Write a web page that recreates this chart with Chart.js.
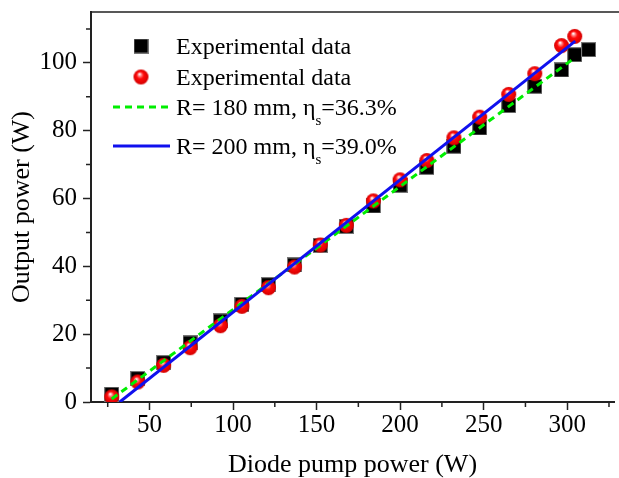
<!DOCTYPE html>
<html>
<head>
<meta charset="utf-8">
<script src="https://cdn.jsdelivr.net/npm/chart.js@4.4.1/dist/chart.umd.min.js"></script>
<style>
  html, body { margin: 0; padding: 0; background: #fff; overflow: hidden; }
  #wrap { width: 619px; height: 478px; position: relative; }
</style>
</head>
<body>
<div id="wrap"><canvas id="chart"></canvas></div>
<script>
// black squares
const pumpSquare = [27.4, 43, 58.5, 74.3, 92.5, 105.3, 121.2, 136.8, 152.2, 167.8, 184, 200, 216, 232.2, 247.6, 265, 280.6, 296.6, 304.5, 312.8];
const outSquare = [2.3, 6.9, 11.6, 17.4, 23.9, 28.8, 34.6, 40.4, 46.2, 51.8, 57.8, 63.9, 69.2, 75.4, 80.8, 87.4, 93.1, 97.9, 102.4, 103.9];
// red spheres
const pumpRound = [27.4, 43, 58.5, 74.3, 92.5, 105.3, 121.2, 136.8, 152.2, 167.8, 184, 200, 216, 232.2, 247.6, 265, 280.6, 296.6, 304.5];
const outRound = [1.5, 5.9, 10.8, 16.0, 22.5, 28.2, 33.7, 39.8, 46.3, 52.1, 59.3, 65.5, 71.2, 77.9, 84.0, 90.7, 96.8, 105.1, 107.8];
// linear fits (end points)
const fit180X = [27.4, 304.5];
const fit180Y = [0.9, 101.5];
const fit200X = [32.2, 304.8];
const fit200Y = [0, 106.4];

const xTicks = [50, 100, 150, 200, 250, 300];
const xMinor = [25, 75, 125, 175, 225, 275, 325];
const yTicks = [0, 20, 40, 60, 80, 100];
const yMinor = [10, 30, 50, 70, 90, 110];

const legendRows = [
    { kind: 'square', text: 'Experimental data' },
    { kind: 'sphere', text: 'Experimental data' },
    { kind: 'dash', text: 'R= 180 mm, \u03b7', sub: 's', tail: '=36.3%' },
    { kind: 'solid', text: 'R= 200 mm, \u03b7', sub: 's', tail: '=39.0%' },
];

const FONT = '"Liberation Serif", "Times New Roman", serif';
const axisColor = '#222';
const green = '#00ee00';
const blue = '#1010ee';

function pairs(xs, ys) {
    return xs.map((x, i) => ({ x: x, y: ys[i] }));
}

function makeSphere(r) {
    const c = document.createElement('canvas');
    const s = Math.ceil(r * 2 + 2);
    c.width = s;
    c.height = s;
    const g = c.getContext('2d');
    const cx = s / 2, cy = s / 2;
    const grad = g.createRadialGradient(cx - r * 0.2, cy - r * 0.4, r * 0.05, cx, cy, r);
    grad.addColorStop(0, '#ffffff');
    grad.addColorStop(0.2, '#ff8080');
    grad.addColorStop(0.45, '#ff0a0a');
    grad.addColorStop(1, '#d40000');
    g.fillStyle = grad;
    g.beginPath();
    g.arc(cx, cy, r, 0, Math.PI * 2);
    g.fill();
    return c;
}

function makeSquare(side) {
    const c = document.createElement('canvas');
    c.width = side + 2;
    c.height = side + 2;
    const g = c.getContext('2d');
    g.fillStyle = '#777';
    g.fillRect(0, 0, side + 2, side + 2);
    g.fillStyle = '#000';
    g.fillRect(1, 1, side, side);
    return c;
}

const sphereImg = makeSphere(7.5);
const squareImg = makeSquare(13);

const framePlugin = {
    id: 'frame',
    afterDraw(chart) {
        const { ctx, chartArea, scales } = chart;
        ctx.save();
        ctx.strokeStyle = axisColor;
        ctx.lineWidth = 1.5;
        ctx.beginPath();
        ctx.moveTo(chartArea.left, chartArea.top);
        ctx.lineTo(chart.width, chartArea.top);
        xMinor.forEach(v => {
            const px = scales.x.getPixelForValue(v);
            ctx.moveTo(px, chartArea.bottom);
            ctx.lineTo(px, chartArea.bottom + 5);
        });
        yMinor.forEach(v => {
            const py = scales.y.getPixelForValue(v);
            ctx.moveTo(chartArea.left, py);
            ctx.lineTo(chartArea.left - 5, py);
        });
        ctx.stroke();

        // legend
        const markX = 141, lineX0 = 113, lineX1 = 170, textX = 176;
        const rowY = [46, 77, 107, 146];
        ctx.fillStyle = '#000';
        ctx.textBaseline = 'alphabetic';
        legendRows.forEach((row, i) => {
            const y = rowY[i];
            if (row.kind === 'square') {
                ctx.drawImage(squareImg, markX - squareImg.width / 2, y - squareImg.height / 2);
            } else if (row.kind === 'sphere') {
                ctx.drawImage(sphereImg, markX - sphereImg.width / 2, y - sphereImg.height / 2);
            } else {
                ctx.save();
                ctx.lineWidth = 3;
                ctx.strokeStyle = row.kind === 'dash' ? green : blue;
                ctx.setLineDash(row.kind === 'dash' ? [7, 5] : []);
                ctx.beginPath();
                ctx.moveTo(lineX0, y);
                ctx.lineTo(lineX1, y);
                ctx.stroke();
                ctx.restore();
            }
            ctx.font = '24px ' + FONT;
            const base = y + 8;
            ctx.fillText(row.text, textX, base);
            if (row.sub) {
                let w = ctx.measureText(row.text).width;
                ctx.font = '15px ' + FONT;
                ctx.fillText(row.sub, textX + w, base + 10);
                w += ctx.measureText(row.sub).width;
                ctx.font = '24px ' + FONT;
                ctx.fillText(row.tail, textX + w, base);
            }
        });
        ctx.restore();
    }
};

new Chart(document.getElementById('chart'), {
    type: 'scatter',
    data: {
        datasets: [
            {
                label: 'R= 200 mm',
                data: pairs(fit200X, fit200Y),
                showLine: true,
                borderColor: blue,
                borderWidth: 3,
                pointRadius: 0,
                order: 1,
            },
            {
                label: 'R= 180 mm',
                data: pairs(fit180X, fit180Y),
                showLine: true,
                borderColor: green,
                borderWidth: 3,
                borderDash: [7, 5],
                pointRadius: 0,
                order: 2,
            },
            {
                label: 'Experimental data (sphere)',
                data: pairs(pumpRound, outRound),
                pointStyle: sphereImg,
                order: 3,
            },
            {
                label: 'Experimental data (square)',
                data: pairs(pumpSquare, outSquare),
                pointStyle: squareImg,
                order: 4,
            },
        ],
    },
    options: {
        responsive: true,
        maintainAspectRatio: false,
        animation: false,
        layout: { padding: { top: 12, right: 0, left: 0, bottom: 0 } },
        plugins: {
            legend: { display: false },
            tooltip: { enabled: false },
        },
        scales: {
            x: {
                type: 'linear',
                min: 15,
                max: 328,
                afterBuildTicks: axis => { axis.ticks = xTicks.map(v => ({ value: v })); },
                afterFit: axis => {
                    axis.height = 76;
                    axis.paddingLeft = 0;
                    axis.paddingRight = 0;
                },
                grid: { drawOnChartArea: false, tickLength: 8, tickWidth: 1.5, tickColor: axisColor },
                border: { color: axisColor, width: 2 },
                ticks: { color: '#000', padding: 0, maxRotation: 0, font: { family: FONT, size: 25 } },
                title: {
                    display: true,
                    text: 'Diode pump power (W)',
                    color: '#000',
                    padding: 0,
                    font: { family: FONT, size: 26, lineHeight: 1 },
                },
            },
            y: {
                type: 'linear',
                min: 0,
                max: 115,
                afterBuildTicks: axis => { axis.ticks = yTicks.map(v => ({ value: v })); },
                afterFit: axis => {
                    axis.width = 91;
                    axis.paddingTop = 0;
                    axis.paddingBottom = 0;
                },
                grid: { drawOnChartArea: false, tickLength: 8, tickWidth: 1.5, tickColor: axisColor },
                border: { color: axisColor, width: 2 },
                ticks: { color: '#000', padding: 6, font: { family: FONT, size: 25 } },
                title: {
                    display: true,
                    text: 'Output power (W)',
                    color: '#000',
                    padding: { top: 9, bottom: 0 },
                    font: { family: FONT, size: 26, lineHeight: 1 },
                },
            },
        },
    },
    plugins: [framePlugin],
});
</script>
</body>
</html>
